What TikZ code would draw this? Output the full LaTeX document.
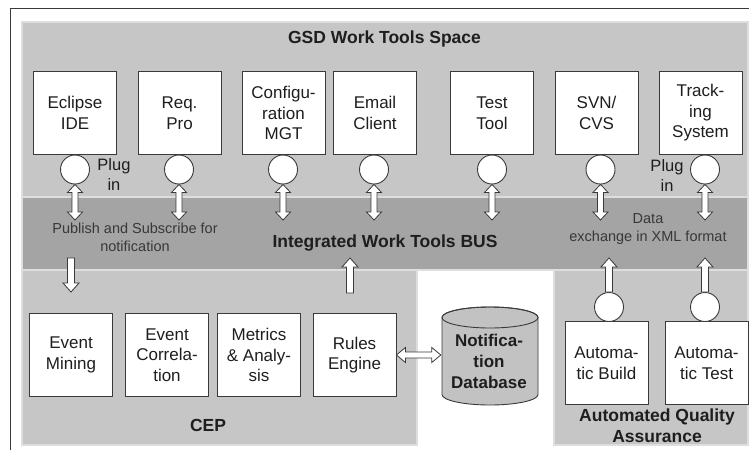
\documentclass[tikz,border=0pt]{standalone}
\usepackage{fontspec}
\setmainfont{Liberation Sans}
\usetikzlibrary{calc}

\definecolor{spacegray}{HTML}{C6C6C6}
\definecolor{busgray}{HTML}{A4A4A4}
\definecolor{dbgray}{HTML}{C2C2C2}
\definecolor{edge}{HTML}{3A3A3A}
\definecolor{ink}{HTML}{1E1E1E}
\definecolor{seam}{HTML}{DEDEDE}

% hollow block arrows, drawn between two points
\newcommand\hollowboth[2]{% vertical, heads at both ends; #1 upper, #2 lower
  \draw[hollow] let \p1=(#1), \p2=(#2) in
    (\x1,\y1) -- ({\x1+7.5pt},{\y1-8pt}) -- ({\x1+3pt},{\y1-8pt})
    -- ({\x1+3pt},{\y2+8pt}) -- ({\x1+7.5pt},{\y2+8pt}) -- (\x1,\y2)
    -- ({\x1-7.5pt},{\y2+8pt}) -- ({\x1-3pt},{\y2+8pt})
    -- ({\x1-3pt},{\y1-8pt}) -- ({\x1-7.5pt},{\y1-8pt}) -- cycle;}
\newcommand\hollowup[2]{% #1 tip (upper), #2 tail (lower)
  \draw[hollow] let \p1=(#1), \p2=(#2) in
    (\x1,\y1) -- ({\x1+8pt},{\y1-9pt}) -- ({\x1+3.5pt},{\y1-9pt})
    -- ({\x1+3.5pt},\y2) -- ({\x1-3.5pt},\y2)
    -- ({\x1-3.5pt},{\y1-9pt}) -- ({\x1-8pt},{\y1-9pt}) -- cycle;}
\newcommand\hollowdown[2]{% #1 tail (upper), #2 tip (lower)
  \draw[hollow] let \p1=(#1), \p2=(#2) in
    ({\x1-3.5pt},\y1) -- ({\x1+3.5pt},\y1) -- ({\x1+3.5pt},{\y2+9pt})
    -- ({\x1+8pt},{\y2+9pt}) -- (\x1,\y2) -- ({\x1-8pt},{\y2+9pt})
    -- ({\x1-3.5pt},{\y2+9pt}) -- cycle;}
\newcommand\hollowside[2]{% horizontal, heads at both ends; #1 left, #2 right
  \draw[hollow] let \p1=(#1), \p2=(#2) in
    (\x1,\y1) -- ({\x1+9pt},{\y1+7.5pt}) -- ({\x1+9pt},{\y1+3pt})
    -- ({\x2-9pt},{\y1+3pt}) -- ({\x2-9pt},{\y1+7.5pt}) -- (\x2,\y1)
    -- ({\x2-9pt},{\y1-7.5pt}) -- ({\x2-9pt},{\y1-3pt})
    -- ({\x1+9pt},{\y1-3pt}) -- ({\x1+9pt},{\y1-7.5pt}) -- cycle;}

\begin{document}
\begin{tikzpicture}[x=1pt,y=-1pt,
  region/.style={fill=spacegray, draw=seam, line width=1.2pt},
  tool/.style={draw=edge, fill=white, line width=0.9pt, minimum width=83pt,
    minimum height=83pt, inner sep=1pt, align=center, text=ink,
    font=\fontsize{17}{20.5}\selectfont},
  plug/.style={circle, draw=edge, fill=white, line width=0.9pt,
    minimum size=29pt, inner sep=0pt},
  title/.style={font=\fontsize{17.5}{21}\selectfont\bfseries, text=ink, align=center},
  note/.style={font=\fontsize{14.5}{18}\selectfont, text=black!78, align=center},
  plain/.style={font=\fontsize{16.5}{20}\selectfont, text=ink, align=center},
  hollow/.style={draw=edge, fill=white, line width=0.8pt, line join=miter},
]
\useasboundingbox (0,0) rectangle (749,450);

% outer frame
\draw[edge, line width=1pt] (10,450) -- (10,8) -- (749,8);

% areas
\path[region] (22,22) rectangle (748,197);
\path[region, fill=busgray] (22,197) rectangle (748,270);
\path[region] (22,270) rectangle (417,445);
\path[region] (554,270) rectangle (748,445);

% titles
\node[title] (space) at (384.5,39) {GSD Work Tools Space};
\node[title] (bus) at (385,243) {Integrated Work Tools BUS};
\node[title] (cep) at (208,425) {CEP};
\node[title, font=\fontsize{17.5}{21}\selectfont\bfseries] (aqa) at (657,425.5) {Automated Quality\\Assurance};

% tools
\node[tool] (eclipse) at (75,113)    {Eclipse\\IDE};
\node[tool] (reqpro)  at (179.5,113) {Req.\\Pro};
\node[tool] (config)  at (283.5,113) {Configu-\\ration\\MGT};
\node[tool] (email)   at (375,113)   {Email\\Client};
\node[tool] (test)    at (492,113)   {Test\\Tool};
\node[tool] (svn)     at (596.5,113) {SVN/\\CVS};
\node[tool] (track)   at (700.5,113) {Track-\\ing\\System};

% plug-in sockets
\node[plug] (peclipse) at (75,169.5)  {};
\node[plug] (preqpro)  at (179,169.5) {};
\node[plug] (pconfig)  at (283,169.5) {};
\node[plug] (pemail)   at (374,169.5) {};
\node[plug] (ptest)    at (492,169.5) {};
\node[plug] (psvn)     at (600.5,169.5) {};
\node[plug] (ptrack)   at (705,169.5) {};

\node[plain] (plugl) at (114,175) {Plug\\in};
\node[plain] (plugr) at (667,176) {Plug\\in};

% attachment points on the bus
\coordinate (beclipse) at (75,220);
\coordinate (breqpro)  at (179,220);
\coordinate (bconfig)  at (283,220);
\coordinate (bemail)   at (374,220);
\coordinate (btest)    at (492,220);
\coordinate (bsvn)     at (600.5,220);
\coordinate (btrack)   at (705,220);

\hollowboth{peclipse.south}{beclipse}
\hollowboth{preqpro.south}{breqpro}
\hollowboth{pconfig.south}{bconfig}
\hollowboth{pemail.south}{bemail}
\hollowboth{ptest.south}{btest}
\hollowboth{psvn.south}{bsvn}
\hollowboth{ptrack.south}{btrack}

% bus notes
\node[note] (pubsub) at (135,237.5) {Publish and Subscribe for\\notification};
\node[note] (xml) at (648,229) {Data\\exchange in XML format};

% CEP
\node[tool] (mining) at (71,355)    {Event\\Mining};
\node[tool] (corr)   at (167,355)   {Event\\Correla-\\tion};
\node[tool] (metric) at (259,355)   {Metrics\\\& Analy-\\sis};
\node[tool] (rules)  at (354.5,355) {Rules\\Engine};

\coordinate (cepin)  at (71,258);
\coordinate (cepinb) at (71,292);
\coordinate (cepout) at (350,258);
\coordinate (cepoutb) at (350,293);
\hollowdown{cepin}{cepinb}
\hollowup{cepout}{cepoutb}

% notification database
\path[draw=edge, fill=dbgray, line width=0.9pt]
  (442,317.5) -- (442,394.5)
  arc[start angle=180, end angle=0, x radius=48, y radius=10.5]
  -- (538,317.5)
  arc[start angle=0, end angle=-180, x radius=48, y radius=10.5] -- cycle;
\draw[edge, line width=0.9pt] (490,317.5) ellipse [x radius=48, y radius=10.5];
\node[title, font=\fontsize{17}{21}\selectfont\bfseries, minimum width=96pt] (db) at (489,361) {Notifica-\\tion\\Database};
\hollowside{rules.east}{db.west}

% automated quality assurance
\node[tool] (build)  at (606.5,363) {Automa-\\tic Build};
\node[tool] (atest)  at (706.5,363) {Automa-\\tic Test};
\node[plug] (pbuild) at (609,307) {};
\node[plug] (patest) at (705,307) {};
\coordinate (bbuild) at (609,258);
\coordinate (batest) at (705,258);
\hollowup{bbuild}{pbuild.north}
\hollowup{batest}{patest.north}
\end{tikzpicture}
\end{document}
